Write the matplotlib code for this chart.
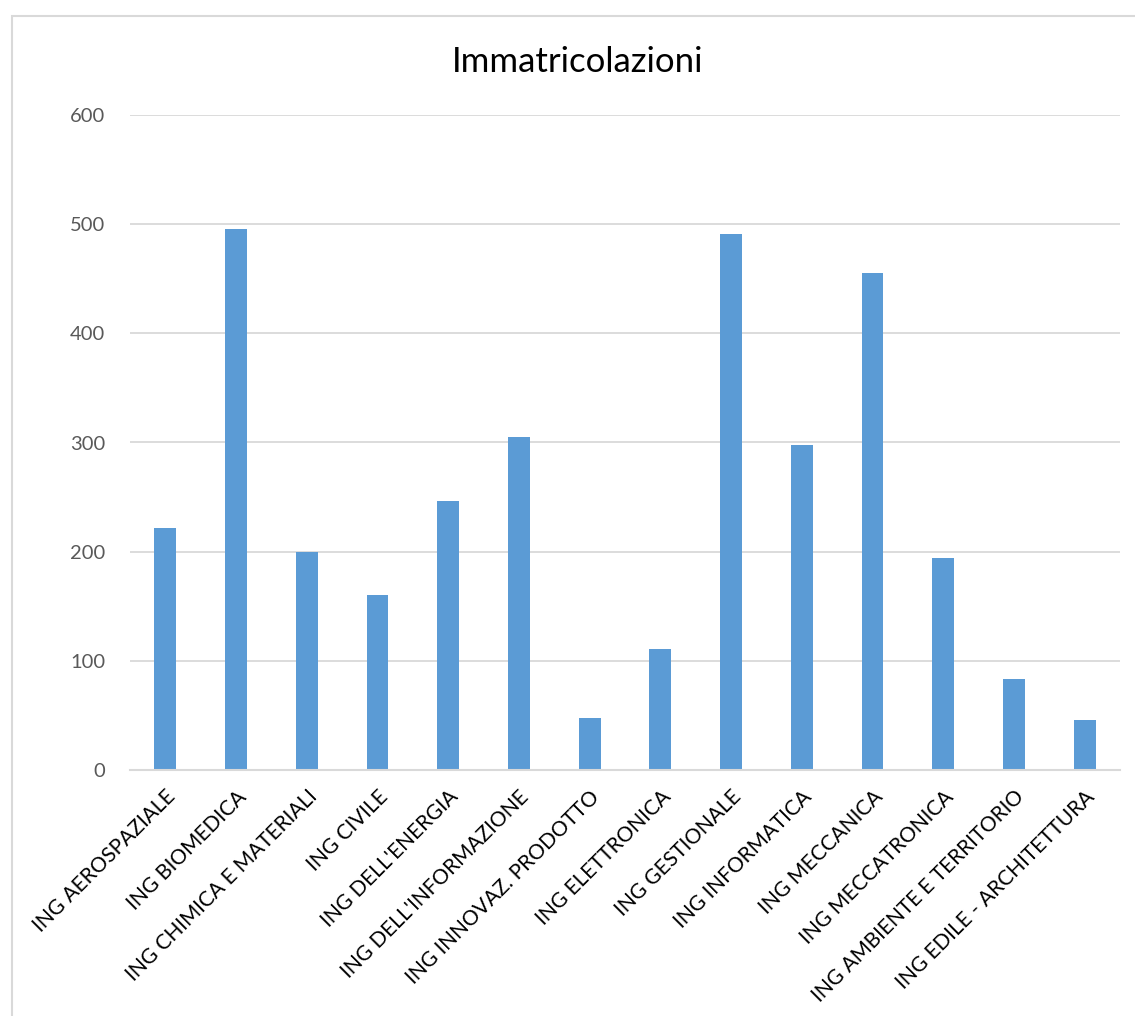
import matplotlib
matplotlib.use("Agg")
import matplotlib.pyplot as plt
from matplotlib.patches import Rectangle

categories = ["ING AEROSPAZIALE", "ING BIOMEDICA", "ING CHIMICA E MATERIALI", "ING CIVILE",
              "ING DELL'ENERGIA", "ING DELL'INFORMAZIONE", "ING INNOVAZ. PRODOTTO",
              "ING ELETTRONICA", "ING GESTIONALE", "ING INFORMATICA", "ING MECCANICA",
              "ING MECCATRONICA", "ING AMBIENTE E TERRITORIO", "ING EDILE - ARCHITETTURA"]
values = [222, 496, 200, 160, 246, 305, 48, 111, 491, 298, 455, 194, 83, 46]
yticks = [0, 100, 200, 300, 400, 500, 600]
title = "Immatricolazioni"

plt.rcParams['font.family'] = ['Lato', 'DejaVu Sans']

W, H = 1135, 1016
fig = plt.figure(figsize=(W / 100, H / 100), dpi=100)
fig.patch.set_facecolor("white")

# chart border
fig.add_artist(Rectangle((12 / W, 0 - 0.01), 1.2, 1 - 16 / H + 0.01, transform=fig.transFigure,
                         fill=False, edgecolor="#d9d9d9", linewidth=1.5))

ax = fig.add_axes([130 / W, 1 - 770 / H, 990 / W, (770 - 115) / H])
x = list(range(len(categories)))
ax.bar(x, values, width=0.31, color="#5b9bd5", zorder=3)
ax.set_xlim(-0.5, len(categories) - 0.5)
ax.set_ylim(0, 600)
ax.set_yticks(yticks)
ax.set_yticklabels([str(v) for v in yticks], color="#595959", fontsize=14.5)
ax.yaxis.grid(True, color="#d9d9d9", linewidth=1.3, zorder=0)
ax.set_xticks(x)
ax.set_xticklabels(categories, rotation=45, ha="right", va="top", rotation_mode="anchor",
                   fontsize=15, color="#000000")
ax.tick_params(axis="both", length=0)
ax.tick_params(axis="y", pad=18)
ax.tick_params(axis="x", pad=12)
for s in ["top", "right", "left"]:
    ax.spines[s].set_visible(False)
ax.spines["bottom"].set_color("#d9d9d9")
ax.spines["bottom"].set_linewidth(1.5)
ax.spines["bottom"].set_zorder(4)

fig.text(578 / W, 1 - 62 / H, title, ha="center", va="center", fontsize=25, color="#000000")

fig.savefig("out.png", dpi=100)
